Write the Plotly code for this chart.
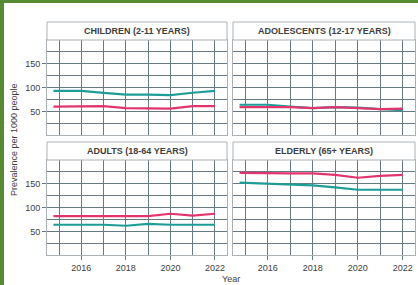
import plotly.graph_objects as go

W, H = 418, 285

years = [2014.75, 2016, 2017, 2018, 2019, 2020, 2021, 2022]
panels = ["CHILDREN (2-11 YEARS)", "ADOLESCENTS (12-17 YEARS)",
          "ADULTS (18-64 YEARS)", "ELDERLY (65+ YEARS)"]
teal_children = [94, 94, 90, 86, 86, 85, 90, 94]
pink_children = [61, 61, 62, 58, 57, 57, 62, 62]
teal_adolescents = [65, 65, 61, 58, 60, 59, 56, 54]
pink_adolescents = [60, 60, 60, 58, 60, 58, 56, 57]
teal_adults = [65, 65, 65, 63, 67, 65, 65, 65]
pink_adults = [83, 83, 83, 83, 83, 88, 84, 88]
teal_elderly = [153, 151, 150, 147, 143, 138, 138, 138]
pink_elderly = [173, 172, 172, 172, 169, 163, 167, 169]
teal_series = [teal_children, teal_adolescents, teal_adults, teal_elderly]
pink_series = [pink_children, pink_adolescents, pink_adults, pink_elderly]
x_ticks = [2016, 2018, 2020, 2022]
y_ticks = [50, 100, 150]

TEAL = "#1e9d98"
PINK = "#e2346d"
GRID = "#667880"
BORDER = "#a9b1b5"
TXT = "#3d3d3d"
GREEN = "#578a33"
FONT = "Liberation Sans, Arial, sans-serif"

# pixel geometry
xcols = [(47, 227), (233, 415)]
rows = [(40, 135, 22), (160, 255, 142)]  # plot top, plot bottom, strip top

fig = go.Figure()
for i in range(4):
    r, c = divmod(i, 2)
    ax = i + 1
    xa = "x" if ax == 1 else f"x{ax}"
    ya = "y" if ax == 1 else f"y{ax}"
    fig.add_trace(go.Scatter(x=years, y=teal_series[i], mode="lines",
                             line=dict(color=TEAL, width=2.2), xaxis=xa, yaxis=ya,
                             showlegend=False, hoverinfo="skip"))
    fig.add_trace(go.Scatter(x=years, y=pink_series[i], mode="lines",
                             line=dict(color=PINK, width=2.2), xaxis=xa, yaxis=ya,
                             showlegend=False, hoverinfo="skip"))
    x0, x1 = xcols[c]
    top, bot, stop = rows[r]
    xdom = [x0 / W, x1 / W]
    ydom = [1 - bot / H, 1 - top / H]
    xkey = "xaxis" if ax == 1 else f"xaxis{ax}"
    ykey = "yaxis" if ax == 1 else f"yaxis{ax}"
    fig.layout[xkey] = dict(
        domain=xdom, anchor=ya, range=[2014.46, 2022.54],
        tickvals=x_ticks, showticklabels=(r == 1),
        ticks="outside" if r == 1 else "", ticklen=4, tickcolor=GRID, tickwidth=1,
        showgrid=True, gridcolor=GRID, gridwidth=1.4,
        minor=dict(tick0=2015, dtick=1, showgrid=True, gridcolor=GRID, gridwidth=1.4),
        showline=True, linecolor=BORDER, linewidth=1, mirror=True,
        zeroline=False, tickfont=dict(size=9, color=TXT, family=FONT),
    )
    fig.layout[ykey] = dict(
        domain=ydom, anchor=xa, range=[2, 200],
        tickvals=y_ticks, showticklabels=(c == 0),
        ticks="outside" if c == 0 else "", ticklen=4, tickcolor=GRID, tickwidth=1,
        showgrid=True, gridcolor=GRID, gridwidth=1.4,
        minor=dict(tick0=0, dtick=25, showgrid=True, gridcolor=GRID, gridwidth=1.4),
        showline=True, linecolor=BORDER, linewidth=1, mirror=True,
        zeroline=False, tickfont=dict(size=9, color=TXT, family=FONT),
    )
    # strip
    fig.add_shape(type="rect", xref="paper", yref="paper",
                  x0=x0 / W, x1=x1 / W, y0=1 - top / H, y1=1 - stop / H,
                  fillcolor="white", line=dict(color=BORDER, width=1))
    fig.add_annotation(xref="paper", yref="paper", x=(x0 + x1) / 2 / W,
                       y=1 - (top + stop) / 2 / H, text=f"<b>{panels[i]}</b>",
                       showarrow=False, xanchor="center", yanchor="middle",
                       font=dict(size=9, color=TXT, family=FONT))

# axis titles
fig.add_annotation(xref="paper", yref="paper", x=231 / W, y=1 - 279 / H,
                   text="Year", showarrow=False, xanchor="center", yanchor="middle",
                   font=dict(size=9, color=TXT, family=FONT))
fig.add_annotation(xref="paper", yref="paper", x=14 / W, y=1 - 140 / H,
                   text="Prevalence per 1000 people", textangle=-90, showarrow=False,
                   xanchor="center", yanchor="middle",
                   font=dict(size=9, color=TXT, family=FONT))

# green frame
fig.add_shape(type="rect", xref="paper", yref="paper", x0=0, x1=4 / W, y0=0, y1=1,
              fillcolor=GREEN, line=dict(width=0), layer="above")
fig.add_shape(type="rect", xref="paper", yref="paper", x0=0, x1=1, y0=1 - 3 / H, y1=1,
              fillcolor=GREEN, line=dict(width=0), layer="above")

fig.update_layout(width=W, height=H, margin=dict(l=0, r=0, t=0, b=0),
                  paper_bgcolor="white", plot_bgcolor="white",
                  font=dict(family=FONT, color=TXT))
fig.write_html("out.html", config={"displayModeBar": False},
               post_script="document.body.style.margin='0';document.body.style.overflow='hidden';")
